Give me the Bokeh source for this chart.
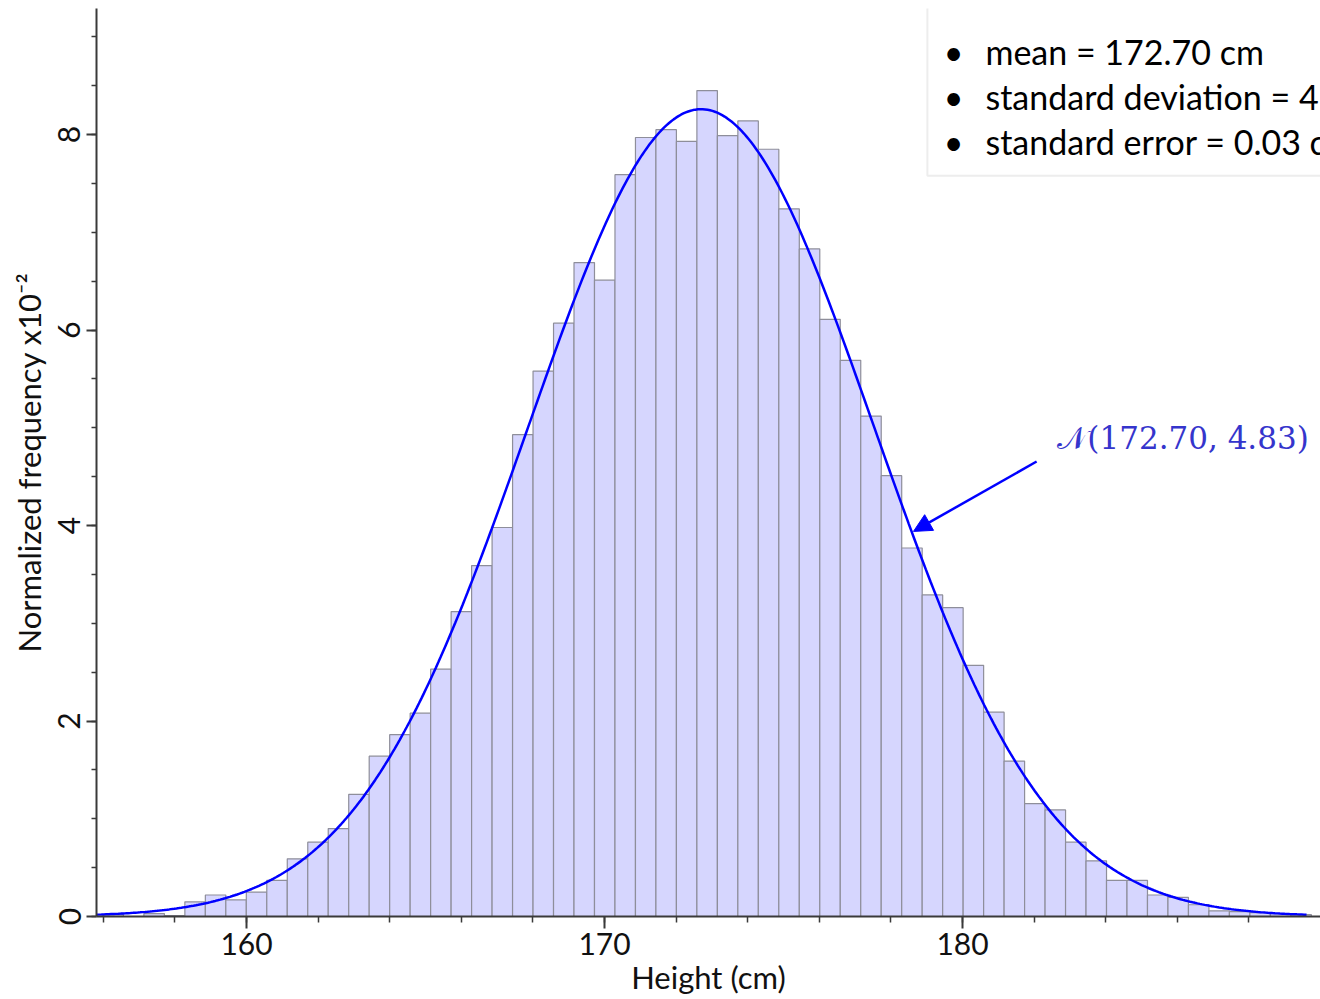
import numpy as np
from bokeh.plotting import figure
from bokeh.models import FixedTicker, Range1d, BoxAnnotation, Label, Arrow, NormalHead
from bokeh.embed import file_html
from bokeh.resources import INLINE

# ---- data ----
bin_start = 155.99          # left edge of first bin (cm)
bin_width = 0.5721          # bin width (cm)
freq = [0.02, 0.00, 0.03, 0.01, 0.15, 0.22, 0.17, 0.25, 0.37, 0.59,
        0.76, 0.90, 1.25, 1.64, 1.86, 2.08, 2.53, 3.12, 3.59, 3.98,
        4.93, 5.58, 6.07, 6.69, 6.51, 7.59, 7.97, 8.05, 7.93, 8.45,
        7.99, 8.14, 7.85, 7.24, 6.83, 6.11, 5.69, 5.12, 4.51, 3.77,
        3.29, 3.16, 2.57, 2.09, 1.59, 1.155, 1.09, 0.76, 0.57, 0.37,
        0.37, 0.22, 0.195, 0.12, 0.058, 0.05, 0.04, 0.03, 0.02]
mean_cm = 172.70
sd_cm = 4.83
x_ticks = [160, 170, 180]
x_minor = list(range(156, 190, 2))
y_ticks = [0, 2, 4, 6, 8]
y_minor = [i * 0.5 for i in range(0, 19)]
stats_lines = ["mean = 172.70 cm", "standard deviation = 4.83 cm", "standard error = 0.03 cm"]
fit_label = "\U0001D4A9(172.70, 4.83)"

edges = bin_start + bin_width * np.arange(len(freq) + 1)
xlo, xhi = 155.81, 190.0
curve_hi = 189.61

p = figure(width=1320, height=999, output_backend="svg", toolbar_location=None,
           x_range=Range1d(xlo, xhi), y_range=Range1d(0, 9.29),
           min_border_left=96, min_border_right=0, min_border_top=8, min_border_bottom=83)
p.grid.visible = False
p.outline_line_color = None
p.background_fill_color = "white"

p.quad(left=edges[:-1], right=edges[1:], bottom=0, top=freq,
       fill_color="#d6d6fe", line_color="#8e8e9a", line_width=1.2)

xs = np.linspace(xlo, curve_hi, 500)
ys = 100.0 * np.exp(-0.5 * ((xs - mean_cm) / sd_cm) ** 2) / (sd_cm * np.sqrt(2 * np.pi))
p.line(xs, ys, line_color="#0000ff", line_width=2.5)

for ax in (p.xaxis[0], p.yaxis[0]):
    ax.axis_line_color = "#3a3a3a"
    ax.axis_line_width = 2
    ax.major_tick_line_color = "#3a3a3a"
    ax.minor_tick_line_color = "#3a3a3a"
    ax.major_tick_line_width = 2
    ax.minor_tick_line_width = 1.5
    ax.major_tick_in = 0
    ax.minor_tick_in = 0
    ax.major_label_text_font = "Lato"
    ax.major_label_text_font_size = "30px"
    ax.major_label_text_color = "#111111"
    ax.axis_label_text_font = "Lato"
    ax.axis_label_text_font_size = "31px"
    ax.axis_label_text_font_style = "normal"
    ax.axis_label_text_color = "#111111"

p.xaxis.ticker = FixedTicker(ticks=x_ticks, minor_ticks=x_minor)
p.yaxis.ticker = FixedTicker(ticks=y_ticks, minor_ticks=y_minor)
p.xaxis.major_tick_out = 12
p.xaxis.minor_tick_out = 6
p.yaxis.major_tick_out = 10
p.yaxis.minor_tick_out = 5
p.xaxis.major_label_standoff = 4
p.yaxis.major_label_standoff = 6
p.xaxis.axis_label_standoff = 0
p.yaxis.axis_label_standoff = 8
p.yaxis.major_label_orientation = "vertical"
p.xaxis.axis_label = "Height (cm)"
p.yaxis.axis_label = "Normalized frequency x10\u207b\u00b2"

# stats box
box = BoxAnnotation(left=179.02, right=200, bottom=7.58, top=12,
                    fill_color="white", fill_alpha=1.0,
                    line_color="#c4c4c4", line_width=2)
p.add_layout(box)

line_y = [8.85, 8.39, 7.93]
for txt, yy in zip(stats_lines, line_y):
    p.add_layout(Label(x=179.75, y=yy, text="\u2022", text_font="Lato", text_font_size="34px",
                       text_align="center", text_baseline="middle", text_color="black"))
    p.add_layout(Label(x=180.64, y=yy, text=txt, text_font="Lato", text_font_size="34px",
                       text_align="left", text_baseline="middle", text_color="black"))

# fitted-normal annotation
p.add_layout(Arrow(x_start=182.07, y_start=4.655, x_end=178.63, y_end=3.94,
                   line_color="#0000ff", line_width=2.5,
                   end=NormalHead(size=18, fill_color="#0000ff", line_color="#0000ff")))
p.add_layout(Label(x=182.65, y=4.90, text=fit_label, text_font="DejaVu Serif",
                   text_font_size="31px", text_align="left", text_baseline="middle",
                   text_color="#3535cc"))

open("out.html", "w").write(file_html(p, INLINE))
